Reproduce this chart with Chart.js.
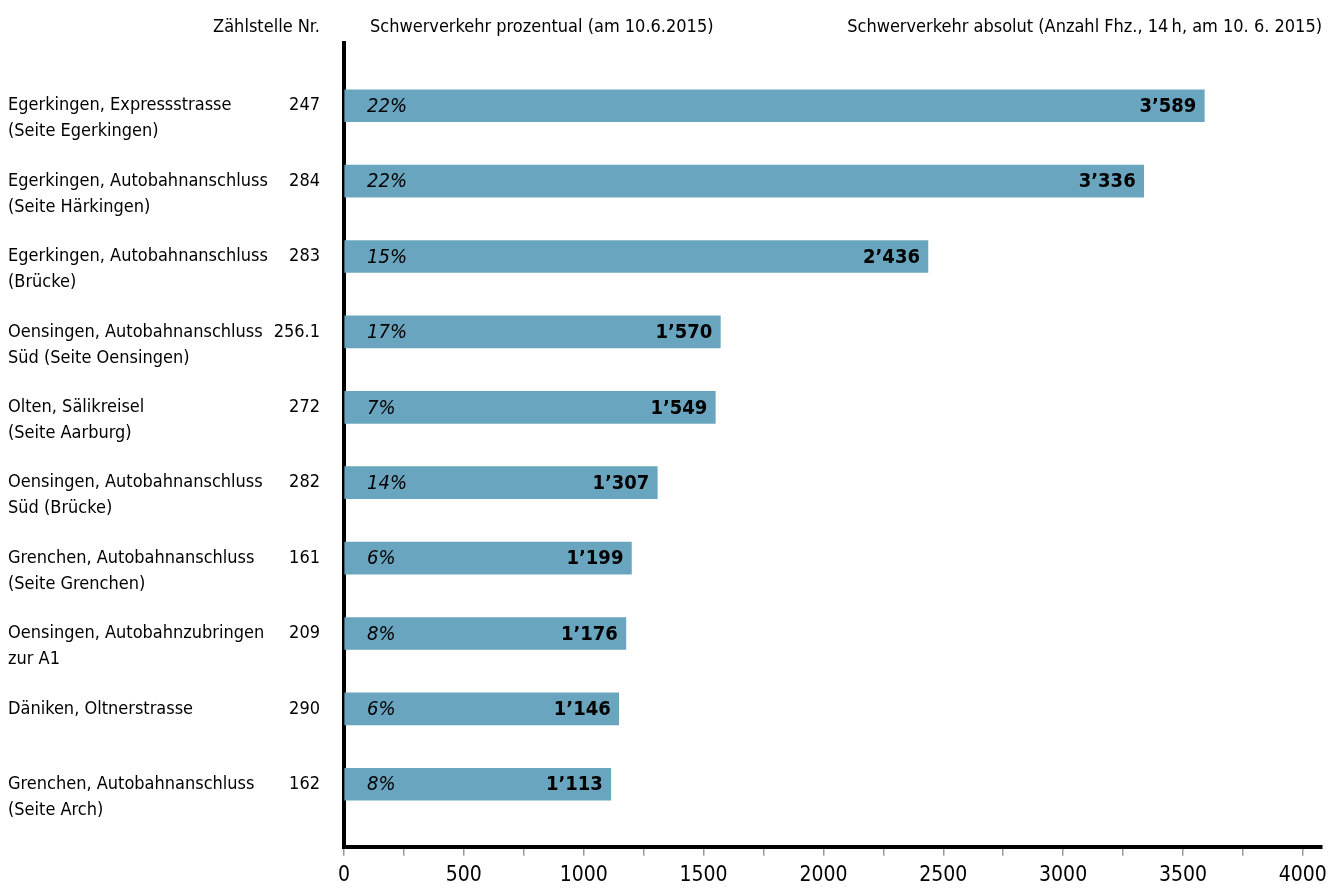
<!DOCTYPE html>
<html>
<head>
<meta charset="utf-8">
<title>Schwerverkehr</title>
<script src="https://cdn.jsdelivr.net/npm/chart.js@4"></script>
<style>
  html, body { margin: 0; padding: 0; background: #fff; }
  #wrap { width: 1341px; height: 890px; }
</style>
</head>
<body>
<div id="wrap"><canvas id="chart"></canvas></div>
<script>
   // data
   var stellen = [
      ['Egerkingen, Expressstrasse', '(Seite Egerkingen)'],
      ['Egerkingen, Autobahnanschluss', '(Seite Härkingen)'],
      ['Egerkingen, Autobahnanschluss', '(Brücke)'],
      ['Oensingen, Autobahnanschluss', 'Süd (Seite Oensingen)'],
      ['Olten, Sälikreisel', '(Seite Aarburg)'],
      ['Oensingen, Autobahnanschluss', 'Süd (Brücke)'],
      ['Grenchen, Autobahnanschluss', '(Seite Grenchen)'],
      ['Oensingen, Autobahnzubringen', 'zur A1'],
      ['Däniken, Oltnerstrasse'],
      ['Grenchen, Autobahnanschluss', '(Seite Arch)']
   ];
   var nummern = ['247', '284', '283', '256.1', '272', '282', '161', '209', '290', '162'];
   var absolut = [3589, 3336, 2436, 1570, 1549, 1307, 1199, 1176, 1146, 1113];
   var prozent = [22, 22, 15, 17, 7, 14, 6, 8, 6, 8];
   var xTicks = [0, 250, 500, 750, 1000, 1250, 1500, 1750, 2000, 2250, 2500, 2750, 3000, 3250, 3500, 3750, 4000];

   var FONT = '"Liberation Sans Narrow", "DejaVu Sans Condensed", "Liberation Sans", Arial, sans-serif';

   function indexTicks(axis) {
      axis.ticks = stellen.map(function (s, i) { return { value: i }; });
   }

   function fmt(n) {
      return n.toString().replace(/\B(?=(\d{3})+(?!\d))/g, '\u2019');
   }

   // bar texts: percent on the left, absolute count at the bar end
   var barTexts = {
      id: 'barTexts',
      afterDatasetsDraw: function (chart) {
         var ctx = chart.ctx;
         var area = chart.chartArea;
         var meta = chart.getDatasetMeta(0);
         ctx.save();
         ctx.fillStyle = '#000';
         ctx.textBaseline = 'middle';
         meta.data.forEach(function (bar, i) {
            ctx.font = 'italic 20px ' + FONT;
            ctx.textAlign = 'left';
            ctx.fillText(prozent[i] + '%', area.left + 23, bar.y + 1);
            ctx.font = 'bold 20px ' + FONT;
            ctx.textAlign = 'right';
            ctx.fillText(fmt(absolut[i]), bar.x - 8, bar.y + 1);
         });
         ctx.restore();
      }
   };

   // column headers above the plot
   var headers = {
      id: 'headers',
      afterDraw: function (chart) {
         var ctx = chart.ctx;
         var area = chart.chartArea;
         ctx.save();
         ctx.fillStyle = '#000';
         ctx.font = '18px ' + FONT;
         ctx.textBaseline = 'middle';
         ctx.textAlign = 'right';
         ctx.fillText('Zählstelle Nr.', area.left - 24, 27);
         ctx.textAlign = 'left';
         ctx.fillText('Schwerverkehr prozentual (am 10.6.2015)', area.left + 26, 27);
         ctx.textAlign = 'right';
         ctx.fillText('Schwerverkehr absolut (Anzahl Fhz., 14\u2009h, am 10. 6. 2015)', area.right, 27);
         ctx.restore();
      }
   };

   var data = absolut.map(function (v, i) { return { x: v, y: i }; });

   new Chart(document.getElementById('chart'), {
      type: 'bar',
      data: {
         datasets: [{
            data: data,
            backgroundColor: '#6aa5bf',
            borderWidth: 0,
            barThickness: 32,
            xAxisID: 'x',
            yAxisID: 'names'
         }]
      },
      options: {
         indexAxis: 'y',
         responsive: true,
         maintainAspectRatio: false,
         animation: false,
         layout: { padding: { top: 38, right: 19, bottom: 0, left: 8 } },
         plugins: {
            legend: { display: false },
            tooltip: { enabled: false }
         },
         scales: {
            x: {
               type: 'linear',
               axis: 'x',
               position: 'bottom',
               min: 0,
               max: 4080,
               afterBuildTicks: function (axis) {
                  axis.ticks = xTicks.map(function (v) { return { value: v }; });
               },
               afterFit: function (axis) { axis.height = 39; },
               border: { display: true, color: '#000', width: 4 },
               grid: {
                  drawOnChartArea: false,
                  drawTicks: true,
                  tickLength: 9,
                  color: '#9a9a9a',
                  lineWidth: 1.5
               },
               ticks: {
                  autoSkip: false,
                  maxRotation: 0,
                  padding: 9,
                  color: '#000',
                  font: { family: FONT, size: 21, lineHeight: 1 },
                  callback: function (v) { return v % 500 === 0 ? String(v) : ''; }
               }
            },
            names: {
               type: 'linear',
               axis: 'y',
               position: 'left',
               reverse: true,
               offset: false,
               min: -0.83,
               max: 9.83,
               weight: 1,
               afterBuildTicks: indexTicks,
               afterFit: function (axis) { axis.width = 266; },
               border: { display: false },
               grid: { display: false, drawTicks: false },
               ticks: {
                  autoSkip: false,
                  crossAlign: 'far',
                  padding: 4,
                  color: '#000',
                  font: { family: FONT, size: 18, lineHeight: 1.45 },
                  callback: function (v) {
                     var s = stellen[v];
                     return s.length > 1 ? ['', s[0], s[1]] : s[0];
                  }
               }
            },
            nr: {
               type: 'linear',
               axis: 'y',
               position: 'left',
               reverse: true,
               offset: false,
               min: -0.83,
               max: 9.83,
               weight: 0,
               afterBuildTicks: indexTicks,
               afterFit: function (axis) { axis.width = 70; },
               border: { display: true, color: '#000', width: 4 },
               grid: { display: false, drawTicks: false },
               ticks: {
                  autoSkip: false,
                  padding: 24,
                  color: '#000',
                  font: { family: FONT, size: 18 },
                  callback: function (v) { return nummern[v]; }
               }
            }
         }
      },
      plugins: [barTexts, headers]
   });
</script>
</body>
</html>
